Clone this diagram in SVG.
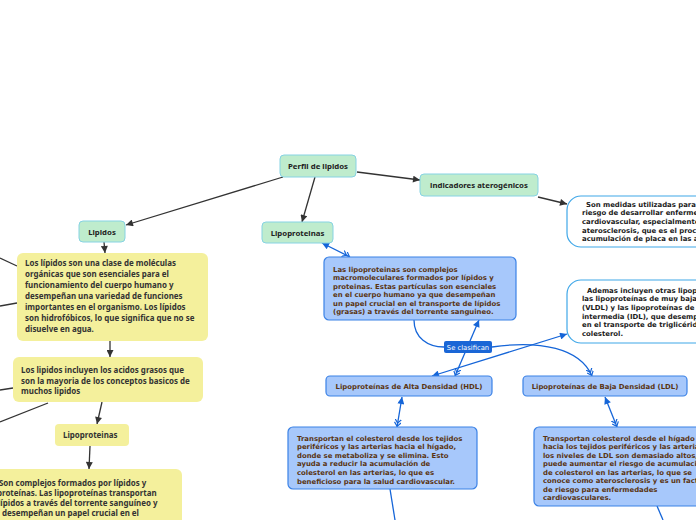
<svg xmlns="http://www.w3.org/2000/svg" width="696" height="520" viewBox="0 0 696 520">
<style>
.mint{fill:#bfeccd;stroke:#86d3e3;stroke-width:1}
.yel{fill:#f4f09c;stroke:none}
.blu{fill:#a7c8fb;stroke:#3b82e6;stroke-width:1.2}
.wht{fill:#fff;stroke:#3fa7e8;stroke-width:1.2}
.tm{font-family:"Noto Sans","Open Sans",sans-serif;font-weight:bold;font-size:7.8px;fill:#222}
.ty{font-family:"Noto Sans","Open Sans",sans-serif;font-weight:bold;font-size:7.95px;fill:#333}
.tb{font-family:"DejaVu Sans",Verdana,sans-serif;font-weight:bold;font-size:6.9px;fill:#5a3411}
.tk{font-family:"DejaVu Sans",Verdana,sans-serif;font-weight:bold;font-size:6.9px;fill:#1a1a1a}
.dk{stroke:#333;stroke-width:1.3;fill:none}
.bl{stroke:#1565d8;stroke-width:1.3;fill:none}
</style>
<defs>
<marker id="ad" viewBox="0 0 10 10" refX="10" refY="5" markerWidth="8" markerHeight="7" orient="auto" markerUnits="userSpaceOnUse"><path d="M0,0 L10,5 L0,10 z" fill="#333"/></marker>
<marker id="ab" viewBox="0 0 10 10" refX="10" refY="5" markerWidth="8" markerHeight="7" orient="auto-start-reverse" markerUnits="userSpaceOnUse"><path d="M0,0 L10,5 L0,10 z" fill="#1565d8"/></marker>
<marker id="fk" viewBox="0 0 12 10" refX="12" refY="5" markerWidth="8" markerHeight="7" orient="auto-start-reverse" markerUnits="userSpaceOnUse"><path d="M0,0 L6,5 L0,10 M5,0 L11,5 L5,10" fill="none" stroke="#1565d8" stroke-width="1.8"/></marker>
</defs>

<g id="connectors">
<line class="dk" x1="283" y1="177" x2="126" y2="225" marker-end="url(#ad)"/>
<line class="dk" x1="315" y1="177" x2="302" y2="222" marker-end="url(#ad)"/>
<line class="dk" x1="357" y1="172" x2="420" y2="180" marker-end="url(#ad)"/>
<line class="dk" x1="538" y1="197" x2="567" y2="204" marker-end="url(#ad)"/>
<line class="dk" x1="104" y1="242" x2="105" y2="253" marker-end="url(#ad)"/>
<line class="dk" x1="110" y1="341" x2="110" y2="357" marker-end="url(#ad)"/>
<line class="dk" x1="102" y1="402" x2="97" y2="424" marker-end="url(#ad)"/>
<line class="dk" x1="90" y1="446" x2="89" y2="469" marker-end="url(#ad)"/>
<line class="dk" x1="0" y1="258" x2="17" y2="266"/>
<line class="dk" x1="0" y1="306" x2="17" y2="303"/>
<line class="dk" x1="0" y1="390" x2="13" y2="388"/>
<line class="dk" x1="0" y1="422" x2="48" y2="403"/>

<line class="bl" x1="350" y1="257" x2="322" y2="243" marker-start="url(#fk)" marker-end="url(#ab)"/>
<path class="bl" d="M414,320 C414,338 428,347 444,347"/>
<line class="bl" x1="455" y1="376" x2="479" y2="320" marker-start="url(#fk)" marker-end="url(#ab)"/>
<path class="bl" d="M492,347 C540,340 580,348 592,376" marker-end="url(#fk)"/>
<line class="bl" x1="432" y1="376" x2="567" y2="334" marker-start="url(#ab)" marker-end="url(#ab)"/>
<line class="bl" x1="397" y1="427" x2="402" y2="397" marker-start="url(#fk)" marker-end="url(#ab)"/>
<line class="bl" x1="617" y1="427" x2="605" y2="397" marker-start="url(#fk)" marker-end="url(#ab)"/>
<line class="bl" x1="390" y1="489" x2="395" y2="520"/>
<line class="bl" x1="657" y1="506" x2="663" y2="520"/>
</g>

<g id="perfil">
<rect class="mint" x="280" y="155" width="76" height="22" rx="4"/>
<text class="tm" x="318" y="169" text-anchor="middle">Perfil de lipidos</text>
</g>
<g id="indicadores">
<rect class="mint" x="420" y="174" width="118" height="22" rx="4"/>
<text class="tm" x="479" y="188" text-anchor="middle">indicadores aterogénicos</text>
</g>
<g id="lipidos">
<rect class="mint" x="79" y="221" width="46" height="21" rx="4"/>
<text class="tm" x="102" y="234.5" text-anchor="middle">Lipidos</text>
</g>
<g id="lipoproteinas-top">
<rect class="mint" x="262" y="222" width="71" height="21" rx="4"/>
<text class="tm" x="297.5" y="235.5" text-anchor="middle">Lipoproteinas</text>
</g>

<g id="medidas">
<rect class="wht" x="567" y="196" width="150" height="51" rx="14"/>
<text class="tk"><tspan x="586" y="206.5">Son medidas utilizadas para</tspan><tspan x="582" y="215.2">riesgo de desarrollar enfermedades</tspan><tspan x="582" y="223.9">cardiovascular, especialmente</tspan><tspan x="582" y="232.6">aterosclerosis, que es el proceso</tspan><tspan x="582" y="241.3">acumulación de placa en las arterias.</tspan></text>
</g>

<g id="lipidos-def">
<rect class="yel" x="17" y="253" width="191" height="88" rx="6"/>
<text class="ty"><tspan x="25" y="266">Los lípidos son una clase de moléculas</tspan><tspan x="25" y="277">orgánicas que son esenciales para el</tspan><tspan x="25" y="288">funcionamiento del cuerpo humano y</tspan><tspan x="25" y="299">desempeñan una variedad de funciones</tspan><tspan x="25" y="310">importantes en el organismo. Los lípidos</tspan><tspan x="25" y="321">son hidrofóbicos, lo que significa que no se</tspan><tspan x="25" y="332">disuelve en agua.</tspan></text>
</g>

<g id="lipidos-acidos">
<rect class="yel" x="13" y="357" width="190" height="45" rx="6"/>
<text class="ty"><tspan x="21" y="373">Los lipidos incluyen los acidos grasos que</tspan><tspan x="21" y="383.5">son la mayoria de los conceptos basicos de</tspan><tspan x="21" y="394">muchos lipidos</tspan></text>
</g>

<g id="lipoproteinas-yel">
<rect class="yel" x="55" y="424" width="74" height="22" rx="4"/>
<text class="ty" x="63" y="438">Lipoproteinas</text>
</g>

<g id="complejos">
<rect class="yel" x="-12" y="469" width="194" height="70" rx="6"/>
<text class="ty"><tspan x="-1" y="486">Son complejos formados por lípidos y</tspan><tspan x="-3" y="496">proteínas. Las lipoproteínas transportan</tspan><tspan x="-2" y="506">lípidos a través del torrente sanguíneo y</tspan><tspan x="2" y="516">desempeñan un papel crucial en el</tspan></text>
</g>

<g id="lipoproteinas-def">
<rect class="blu" x="324" y="257" width="192" height="63" rx="5"/>
<text class="tb"><tspan x="333" y="271.5">Las lipoproteinas son complejos</tspan><tspan x="333" y="280">macromoleculares formados por lípidos y</tspan><tspan x="333" y="288.5">proteinas. Estas partículas son esenciales</tspan><tspan x="333" y="297">en el cuerpo humano ya que desempeñan</tspan><tspan x="333" y="305.5">un papel crucial en el transporte de lípidos</tspan><tspan x="333" y="314">(grasas) a través del torrente sanguineo.</tspan></text>
</g>

<g id="se-clasifican">
<rect x="444" y="341" width="48" height="12" rx="2" fill="#1a66d6"/>
<text x="468" y="350" text-anchor="middle" font-family="DejaVu Sans,Verdana,sans-serif" font-size="6.8px" fill="#fff">Se clasifican</text>
</g>

<g id="otras">
<rect class="wht" x="567" y="280" width="150" height="63" rx="14"/>
<text class="tk"><tspan x="587" y="292.5">Ademas incluyen otras lipoproteínas,</tspan><tspan x="582" y="301.2">las lipoproteínas de muy baja</tspan><tspan x="582" y="309.9">(VLDL) y las lipoproteínas de</tspan><tspan x="582" y="318.6">intermedia (IDL), que desempeñan</tspan><tspan x="582" y="327.3">en el transporte de triglicéridos y</tspan><tspan x="582" y="336">colesterol.</tspan></text>
</g>

<g id="hdl">
<rect class="blu" x="326" y="376" width="166" height="20" rx="4"/>
<text class="tb" x="409" y="388.5" text-anchor="middle">Lipoproteínas de Alta Densidad (HDL)</text>
</g>
<g id="ldl">
<rect class="blu" x="523" y="376" width="164" height="20" rx="4"/>
<text class="tb" x="605" y="388.5" text-anchor="middle">Lipoproteínas de Baja Densidad (LDL)</text>
</g>

<g id="hdl-def">
<rect class="blu" x="288" y="427" width="189" height="62" rx="5"/>
<text class="tb"><tspan x="297" y="440.5">Transportan el colesterol desde los tejidos</tspan><tspan x="297" y="449.1">periféricos y las arterias hacia el hígado,</tspan><tspan x="297" y="457.7">donde se metaboliza y se elimina. Esto</tspan><tspan x="297" y="466.3">ayuda a reducir la acumulación de</tspan><tspan x="297" y="474.9">colesterol en las arterias, lo que es</tspan><tspan x="297" y="483.5">beneficioso para la salud cardiovascular.</tspan></text>
</g>

<g id="ldl-def">
<rect class="blu" x="534" y="427" width="180" height="79" rx="5"/>
<text class="tb"><tspan x="543" y="440.5">Transportan colesterol desde el hígado</tspan><tspan x="543" y="449">hacia los tejidos periféricos y las arterias.</tspan><tspan x="543" y="457.5">los niveles de LDL son demasiado altos,</tspan><tspan x="543" y="466">puede aumentar el riesgo de acumulación</tspan><tspan x="543" y="474.5">de colesterol en las arterias, lo que se</tspan><tspan x="543" y="483">conoce como aterosclerosis y es un factor</tspan><tspan x="543" y="491.5">de riesgo para enfermedades</tspan><tspan x="543" y="500">cardiovasculares.</tspan></text>
</g>
</svg>
